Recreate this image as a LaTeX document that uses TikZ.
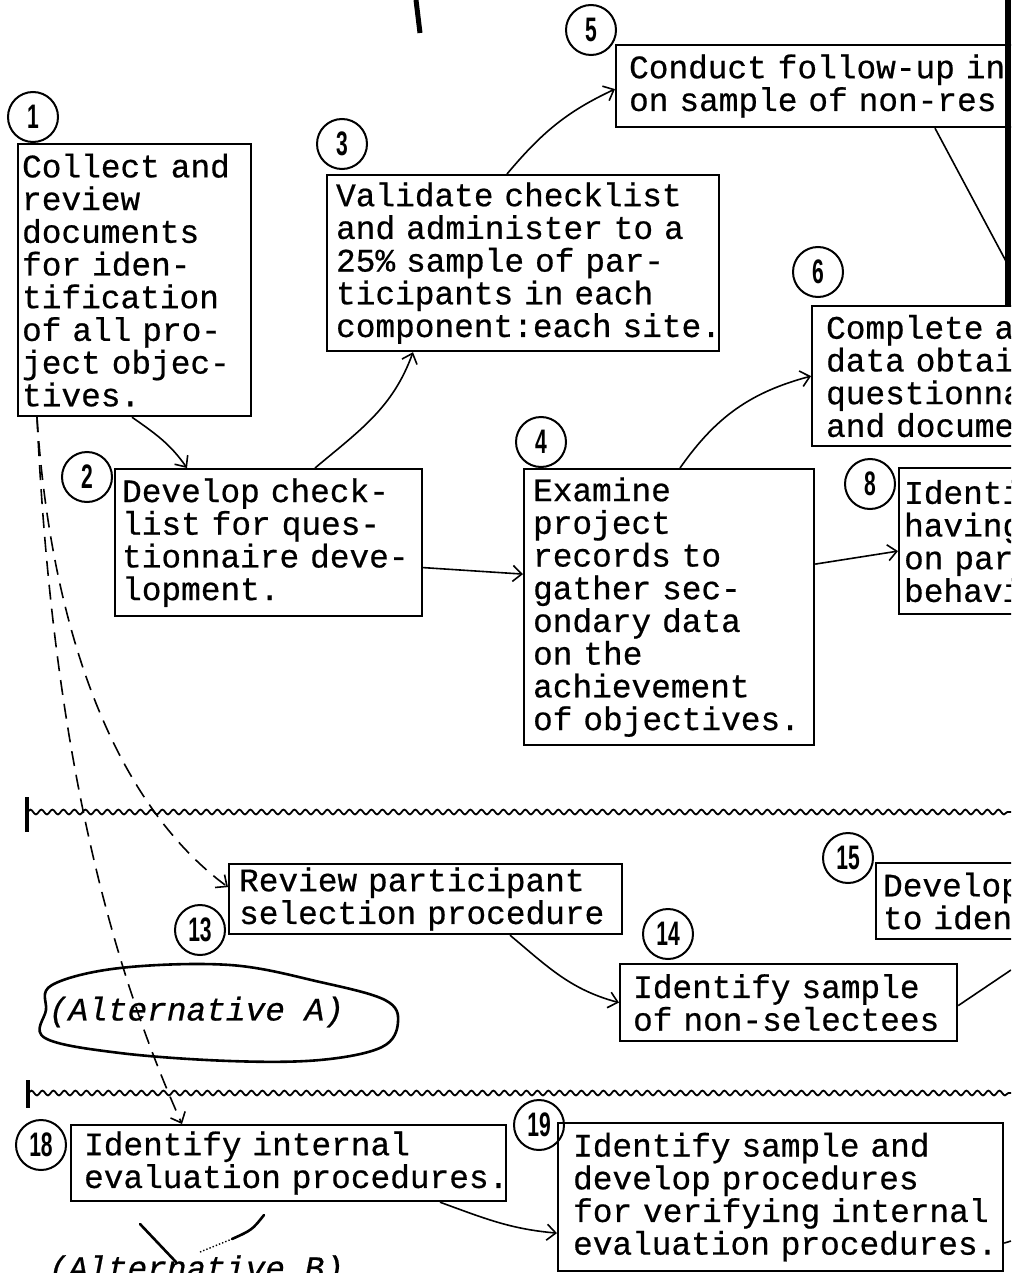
\documentclass[tikz,border=0pt]{standalone}
\usepackage{fontspec}
\setmonofont{Liberation Mono}[FakeBold=0.6]
\newfontfamily\numfamily[FakeStretch=0.62]{Liberation Sans}
\usetikzlibrary{arrows.meta,decorations.pathmorphing}

\newcommand{\boxfont}{\ttfamily\fontsize{32.8}{32.7}\selectfont}
\newcommand{\numfont}{\numfamily\bfseries\fontsize{34}{34}\selectfont}

\begin{document}
\begin{tikzpicture}[
		x = 1pt, y = -1pt, % scan pixels, y downwards
		> = {Straight Barb[length=9pt, width=16pt]}, % open arrow head
		line width = 1.6pt, % connector lines
		task/.style = {draw, line width=2.2pt, anchor=north west,
			align=left, inner ysep=0pt, font=\boxfont},
		num/.style = {circle, draw, line width=2pt, minimum size=50pt,
			inner sep=0pt, font=\numfont},
		wave/.style = {decorate, line width=1.8pt,
			decoration={snake, segment length=11pt, amplitude=2.4pt}},
		hand/.style = {line width=2.6pt, line cap=round}
		]
	
	\useasboundingbox (0,0) rectangle (1011,1273);
	\clip (0,0) rectangle (1011,1273);
	
	% upper band
	\node[task, inner xsep=4pt, text width=225pt, minimum height=272pt] (b1) at (17,143)
		{Collect and\\review\\documents\\for iden-\\tification\\of all pro-\\ject objec-\\tives.};
	\node[task, inner xsep=7pt, text width=293pt, minimum height=147pt] (b2) at (114,468)
		{Develop check-\\list for ques-\\\mbox{tionnaire deve-}\\lopment.};
	\node[task, inner xsep=9pt, text width=374pt, minimum height=176pt] (b3) at (326,174)
		{Validate checklist\\\mbox{and administer to a}\\25\% sample of par-\\ticipants in each\\\mbox{component:each site.}};
	\node[task, inner xsep=9pt, text width=272pt, minimum height=276pt] (b4) at (523,468)
		{Examine\\project\\records to\\gather sec-\\ondary data\\on the\\achievement\\\mbox{of objectives.}};
	\node[task, inner xsep=13pt, text width=500pt, minimum height=82pt] (b5) at (615,44)
		{Conduct follow-up in\\on sample of non-res};
	\node[task, inner xsep=14pt, text width=300pt, minimum height=140pt] (b6) at (811,305)
		{Complete a\\data obtai\\questionna\\and docume};
	\node[task, inner xsep=5pt, text width=300pt, minimum height=146pt] (b8) at (898,467)
		{Identi\\having\\on par\\behavi};
	
	\node[num] (n1) at (33,117) {1};
	\node[num] (n2) at (87,477) {2};
	\node[num] (n3) at (342,144) {3};
	\node[num] (n4) at (541,442) {4};
	\node[num] (n5) at (591,30) {5};
	\node[num] (n6) at (818,272) {6};
	\node[num] (n8) at (870,484) {8};
	
	% middle band
	\node[task, inner xsep=10pt, text width=373pt, minimum height=70pt] (b13) at (228,863)
		{Review participant\\\mbox{selection procedure}};
	\node[task, inner xsep=13pt, text width=311pt, minimum height=77pt] (b14) at (619,963)
		{Identify sample\\\mbox{of non-selectees}};
	\node[task, inner xsep=7pt, text width=300pt, minimum height=76pt] (b15) at (875,862)
		{Develop\\to iden};
	
	\node[num] (n13) at (200,930) {13};
	\node[num] (n14) at (668,934) {14};
	\node[num] (n15) at (848,858) {15};
	
	% lower band
	\node[task, inner xsep=13pt, text width=409pt, minimum height=76pt] (b18) at (70,1124)
		{Identify internal\\\mbox{evaluation procedures.}};
	\node[task, inner xsep=15pt, text width=415pt, minimum height=148pt] (b19) at (557,1122)
		{Identify sample and\\develop procedures\\\mbox{for verifying internal}\\\mbox{evaluation procedures.}};
	
	\node[num] (n18) at (41,1145) {18};
	\node[num] (n19) at (539,1125) {19};
	
	\coordinate (c7) at (1008,265);
	\coordinate (c15) at (1011,970);
	\coordinate (c20) at (1011,1241);
	
	\path[->]
	([xshift=115pt]b1.south west) edge [out=-35, in=125] ([xshift=73pt]b2.north west)
	([xshift=201pt]b2.north west) edge [out=40, in=-110] ([xshift=87pt]b3.south west)
	([yshift=-25pt]b2.east) edge [] ([yshift=33pt]b4.west)
	([xshift=181pt]b3.north west) edge [out=50, in=-155] ([yshift=-3pt]b5.west)
	([xshift=157pt]b4.north west) edge [out=55, in=-165] (b6.west)
	([yshift=43pt]b4.east) edge [] ([yshift=-10pt]b8.west)
	([xshift=320pt]b5.south west) edge [-] (c7)
	([xshift=282pt]b13.south west) edge [out=-40, in=165] (b14.west)
	([yshift=-3pt]b14.east) edge [-] (c15)
	([xshift=370pt]b18.south west) edge [out=-20, in=175] ([yshift=-36pt]b19.west)
	([yshift=-46pt]b19.east) edge [-] (c20)
	;
	
	% alternatives from step 1
	\draw[->, dash pattern=on 15pt off 9pt]
		([xshift=20pt]b1.south west) .. controls (50,620) and (110,800) .. ([yshift=12pt]b13.west);
	\draw[->, dash pattern=on 15pt off 9pt]
		([xshift=20pt]b1.south west) .. controls (50,700) and (95,930) .. ([xshift=112pt]b18.north west);
	
	\draw[hand] plot[smooth cycle, tension=0.6] coordinates {(52,985) (120,968) (230,965) (320,982)
		(385,1000) (398,1022) (382,1047) (320,1060) (230,1061) (120,1053) (45,1038) (46,1010)};
	\node[font=\boxfont\itshape, anchor=west, inner sep=0pt] (altA) at (48,1012) {(Alternative A)};
	\node[font=\boxfont\itshape, anchor=base west, inner sep=0pt] (altB) at (48,1279) {(Alternative B)};
	
	% band separators
	\draw[line width=3.5pt] (27,797) -- (27,832);
	\draw[wave] (27,812) -- (1011,812);
	\draw[line width=3.5pt] (28,1080) -- (28,1108);
	\draw[wave] (28,1093) -- (1011,1093);
	
	% pen marks
	\draw[line width=5pt] (416,0) -- (420,33);
	\fill (1005,0) rectangle (1011,305);
	\draw[hand] (140,1224) -- (176,1262);
	\draw[line width=1.4pt, dotted] (200,1252) -- (232,1239);
	\draw[hand] (232,1239) .. controls (252,1230) .. (264,1215);
\end{tikzpicture}
\end{document}
